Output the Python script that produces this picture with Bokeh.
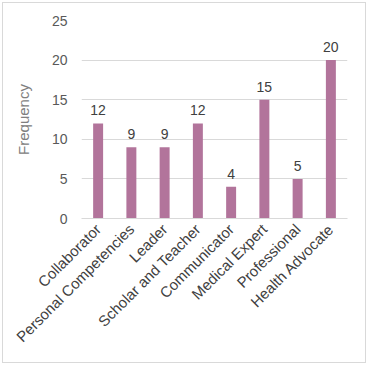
from bokeh.plotting import figure
from bokeh.models import ColumnDataSource, FactorRange, Range1d, LabelSet
from bokeh.core.properties import value
from bokeh.embed import file_html
from bokeh.resources import INLINE
import math

categories = ["Collaborator", "Personal Competencies", "Leader", "Scholar and Teacher",
              "Communicator", "Medical Expert", "Professional", "Health Advocate"]
frequency = [12, 9, 9, 12, 4, 15, 5, 20]
y_ticks = [0, 5, 10, 15, 20, 25]

FONT = "Liberation Sans"

src = ColumnDataSource(dict(cat=categories, val=frequency, lab=[str(v) for v in frequency]))

p = figure(width=364, height=361, output_backend="svg", toolbar_location=None,
           x_range=FactorRange(*categories, range_padding=0), y_range=Range1d(0, 25),
           min_border_left=78, min_border_right=20, min_border_top=17, min_border_bottom=146)
p.styles = {"border": "1px solid #d9d9d9", "box-sizing": "border-box", "margin": "2px 0 0 2px"}
p.outline_line_color = None
p.background_fill_color = "white"
p.border_fill_color = "white"

p.vbar(x="cat", top="val", width=0.3, source=src, fill_color="#B2749B", line_color=None)

labels = LabelSet(x="cat", y="val", text="lab", source=src, text_align="center",
                  text_baseline="bottom", y_offset=8, text_font_size="14px",
                  text_color="#404040", text_font=value(FONT))
p.add_layout(labels)

p.xgrid.grid_line_color = None
p.ygrid.grid_line_color = "#d9d9d9"
p.ygrid.ticker = y_ticks

p.yaxis.ticker = y_ticks
p.yaxis.axis_line_color = None
p.yaxis.major_tick_line_color = None
p.yaxis.major_tick_out = 0
p.yaxis.minor_tick_line_color = None
p.yaxis.minor_tick_out = 0
p.yaxis.major_label_text_font_size = "14px"
p.yaxis.major_label_text_color = "#595959"
p.yaxis.major_label_text_font = FONT
p.yaxis.major_label_standoff = 14
p.yaxis.axis_label = "Frequency"
p.yaxis.axis_label_text_font_size = "15px"
p.yaxis.axis_label_text_font_style = "normal"
p.yaxis.axis_label_text_color = "#808080"
p.yaxis.axis_label_text_font = FONT
p.yaxis.axis_label_standoff = 17

p.xaxis.axis_line_color = "#d9d9d9"
p.xaxis.major_tick_line_color = None
p.xaxis.major_tick_out = 0
p.xaxis.minor_tick_line_color = None
p.xaxis.minor_tick_out = 0
p.xaxis.major_label_orientation = math.pi / 4
p.xaxis.major_label_text_font_size = "15px"
p.xaxis.major_label_text_color = "#404040"
p.xaxis.major_label_text_font = FONT
p.xaxis.major_label_standoff = 8

open("out.html", "w").write(file_html(p, INLINE))
